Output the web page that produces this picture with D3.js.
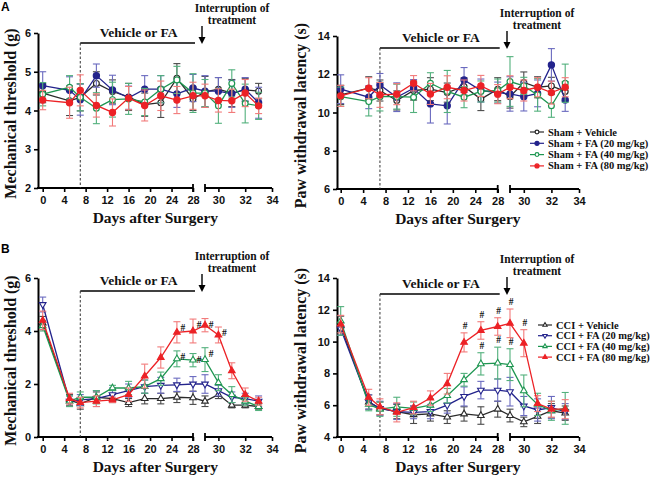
<!DOCTYPE html>
<html lang="en">
<head>
<meta charset="utf-8">
<title>Mechanical threshold and paw withdrawal latency</title>
<script src="https://d3js.org/d3.v7.min.js"></script>
<style>
  body { margin: 0; background: #fff; }
  .tick text { font-family: "Liberation Sans", Arial, sans-serif; font-weight: bold; font-size: 11px; fill: #111; }
  .serif { font-family: "Liberation Serif", "Times New Roman", serif; font-weight: bold; fill: #111; }
</style>
</head>
<body>
<svg width="650" height="478"></svg>
<script>
// ---- data ----
const days = [0, 5, 7, 10, 13, 16, 19, 22, 25, 28, 29, 30, 31, 32, 33];
const xTicks1 = [0, 4, 8, 12, 16, 20, 24, 28];
const xTicks2 = [30, 32, 34];

// A: sham, mechanical threshold (g)
const shamMechVeh  = [4.45, 4.25, 4.34, 4.70, 4.49, 4.35, 4.15, 4.20, 4.83, 4.30, 4.48, 4.55, 4.45, 4.53, 4.50];
const shamMech20   = [4.64, 4.52, 4.28, 4.90, 4.53, 4.33, 4.55, 4.55, 4.43, 4.58, 4.50, 4.50, 4.43, 4.55, 4.20];
const shamMech40   = [4.42, 4.60, 4.34, 4.06, 4.28, 4.30, 4.22, 4.55, 4.79, 4.45, 4.45, 4.12, 4.70, 4.18, 4.12];
const shamMech80   = [4.27, 4.20, 4.52, 4.13, 3.95, 4.32, 4.13, 4.38, 4.27, 4.38, 4.38, 4.26, 4.25, 4.45, 4.12];
const shamMechVehE = [0.25, 0.38, 0.35, 0.30, 0.30, 0.35, 0.30, 0.38, 0.38, 0.30, 0.40, 0.30, 0.35, 0.30, 0.20];
const shamMech20E  = [0.36, 0.35, 0.40, 0.30, 0.38, 0.30, 0.35, 0.35, 0.35, 0.35, 0.40, 0.35, 0.35, 0.30, 0.40];
const shamMech40E  = [0.30, 0.30, 0.35, 0.40, 0.45, 0.40, 0.35, 0.35, 0.35, 0.50, 0.35, 0.45, 0.35, 0.50, 0.35];
const shamMech80E  = [0.25, 0.40, 0.40, 0.30, 0.35, 0.30, 0.40, 0.38, 0.35, 0.35, 0.30, 0.30, 0.30, 0.35, 0.20];

// A: sham, paw withdrawal latency (s)
const shamPawVeh  = [10.92, 11.27, 11.15, 10.63, 11.15, 11.22, 11.04, 11.36, 10.70, 11.22, 10.83, 11.57, 11.32, 11.39, 11.10];
const shamPaw20   = [11.22, 10.80, 11.44, 10.80, 11.27, 10.45, 10.35, 11.70, 11.15, 11.04, 10.97, 10.83, 11.00, 12.49, 10.66];
const shamPaw40   = [10.83, 10.57, 10.83, 10.83, 10.80, 11.53, 11.10, 10.80, 11.10, 11.15, 11.62, 11.39, 10.92, 10.35, 11.53];
const shamPaw80   = [10.87, 11.27, 10.92, 10.96, 11.53, 10.97, 11.32, 11.15, 11.39, 10.96, 11.32, 11.15, 11.32, 11.04, 11.32];
const shamPawVehE = [0.50, 0.60, 0.55, 0.50, 0.50, 0.60, 0.50, 0.45, 0.60, 0.60, 0.60, 0.55, 0.55, 0.45, 0.50];
const shamPaw20E  = [0.75, 0.60, 0.60, 0.75, 0.45, 1.00, 0.95, 0.65, 0.60, 0.55, 0.90, 0.75, 0.70, 0.85, 0.60];
const shamPaw40E  = [0.50, 0.75, 0.75, 0.65, 0.80, 0.55, 1.10, 0.55, 0.55, 0.60, 1.30, 0.45, 0.85, 0.60, 1.00];
const shamPaw80E  = [0.55, 0.55, 0.65, 0.55, 0.40, 0.55, 0.60, 0.55, 0.55, 0.50, 0.60, 0.55, 0.50, 0.60, 0.50];

// B: CCI, mechanical threshold (g)
const cciMechVeh  = [4.30, 1.40, 1.25, 1.50, 1.45, 1.30, 1.45, 1.45, 1.50, 1.48, 1.35, 1.60, 1.20, 1.20, 1.15];
const cciMech20   = [5.00, 1.35, 1.40, 1.45, 1.60, 1.75, 1.90, 1.95, 1.97, 2.00, 2.00, 1.75, 1.50, 1.45, 1.35];
const cciMech40   = [4.20, 1.35, 1.50, 1.50, 1.85, 1.85, 1.90, 2.20, 2.95, 2.90, 2.92, 2.05, 1.60, 1.35, 1.15];
const cciMech80   = [4.40, 1.45, 1.30, 1.35, 1.40, 1.60, 2.30, 3.00, 3.95, 4.00, 4.22, 3.85, 2.50, 1.60, 1.35];
const cciMechVehE = [0.25, 0.20, 0.20, 0.20, 0.15, 0.15, 0.20, 0.20, 0.20, 0.25, 0.20, 0.15, 0.10, 0.10, 0.10];
const cciMech20E  = [0.28, 0.20, 0.20, 0.30, 0.25, 0.25, 0.25, 0.30, 0.25, 0.28, 0.35, 0.20, 0.20, 0.20, 0.20];
const cciMech40E  = [0.20, 0.20, 0.20, 0.25, 0.10, 0.25, 0.25, 0.25, 0.30, 0.25, 0.45, 0.30, 0.30, 0.15, 0.15];
const cciMech80E  = [0.35, 0.20, 0.20, 0.20, 0.10, 0.25, 0.45, 0.40, 0.40, 0.45, 0.25, 0.30, 0.30, 0.25, 0.15];

// B: CCI, paw withdrawal latency (s)
const cciPawVeh  = [11.00, 6.20, 5.80, 5.60, 5.40, 5.45, 5.25, 5.45, 5.35, 5.75, 5.35, 4.95, 5.30, 5.65, 5.50];
const cciPaw20   = [10.80, 6.20, 5.80, 5.60, 5.55, 5.60, 6.00, 6.55, 6.95, 6.95, 6.85, 5.95, 5.70, 5.85, 5.60];
const cciPaw40   = [11.30, 6.05, 5.75, 5.90, 5.80, 6.00, 6.60, 7.60, 8.60, 8.65, 8.55, 6.90, 6.05, 5.65, 5.80];
const cciPaw80   = [11.10, 6.50, 5.90, 5.55, 5.85, 6.45, 7.35, 9.95, 10.70, 10.95, 11.15, 9.90, 6.10, 5.75, 5.75];
const cciPawVehE = [0.60, 0.45, 0.40, 0.45, 0.55, 0.45, 0.40, 0.45, 0.55, 0.50, 0.40, 0.30, 0.45, 0.45, 0.45];
const cciPaw20E  = [0.40, 0.45, 0.45, 0.50, 0.40, 0.45, 0.50, 0.60, 0.55, 0.70, 0.90, 0.60, 0.70, 0.70, 0.50];
const cciPaw40E  = [0.90, 0.40, 0.45, 0.60, 0.40, 0.40, 0.45, 0.40, 0.70, 1.00, 1.00, 1.00, 0.70, 0.60, 1.00];
const cciPaw80E  = [0.55, 0.50, 0.50, 0.60, 0.40, 0.45, 0.65, 0.60, 0.55, 0.55, 0.90, 0.85, 0.50, 0.50, 0.60];

// days marked with "#"
const cciMech80Hash = [25, 28, 29, 30];
const cciMech40Hash = [25, 28, 29];
const cciPaw80Hash  = [22, 25, 28, 29, 30];
const cciPaw40Hash  = [25, 28, 29];

const shamNames = ["Sham + Vehicle", "Sham + FA (20 mg/kg)", "Sham + FA (40 mg/kg)", "Sham + FA (80 mg/kg)"];
const cciNames  = ["CCI + Vehicle", "CCI + FA (20 mg/kg)", "CCI + FA (40 mg/kg)", "CCI + FA (80 mg/kg)"];

// ---- styles ----
const colors  = ["#2b2b2b", "#23238c", "#1e9651", "#ec2226"];
const ecolors = ["#4a4a4a", "#6a6abf", "#52b07c", "#f27a7a"];

const svg = d3.select("svg");

function marker(g, shape, filled, color, x, y, sz) {
  sz = sz || 1;
  if (shape === "circle") {
    g.append("circle").attr("cx", x).attr("cy", y).attr("r", (filled ? 3.1 : 2.9) * sz)
      .attr("fill", filled ? color : "#fff").attr("stroke", color).attr("stroke-width", 1.2);
  } else {
    g.append("path")
      .attr("d", d3.symbol(d3.symbolTriangle, 19 * sz * sz)())
      .attr("transform", `translate(${x},${y})` + (shape === "down" ? " rotate(180)" : ""))
      .attr("fill", filled ? color : "#fff").attr("stroke", color).attr("stroke-width", 1.1);
  }
}

function drawPanel(p) {
  const g = svg.append("g");
  const x1 = d3.scaleLinear().domain([0, 28]).range([p.x0, p.x28]);
  const x2 = d3.scaleLinear().domain([29, 34]).range([p.x29, p.x34]);
  const xs = d => d <= 28 ? x1(d) : x2(d);
  const y = d3.scaleLinear().domain(p.yDomain).range([p.yBot, p.yTop]);
  const fmt = d3.format("d");

  // y axis
  const ya = g.append("g").attr("transform", `translate(${p.yAxisX},0)`)
    .call(d3.axisLeft(y).tickValues(p.yTicks).tickFormat(fmt).tickSize(4).tickPadding(3).tickSizeOuter(0));
  ya.select(".domain").attr("stroke-width", 2);
  ya.selectAll(".tick line").attr("stroke-width", 1.6);

  // x axis, two segments
  const xa1 = g.append("g").attr("transform", `translate(0,${p.yBot})`)
    .call(d3.axisBottom(x1).tickValues(xTicks1).tickFormat(fmt).tickSize(4).tickPadding(4));
  const xa2 = g.append("g").attr("transform", `translate(0,${p.yBot})`)
    .call(d3.axisBottom(x2).tickValues(xTicks2).tickFormat(fmt).tickSize(4).tickPadding(4));
  [xa1, xa2].forEach(a => {
    a.select(".domain").remove();
    a.selectAll(".tick line").attr("stroke-width", 1.6);
  });
  g.append("line").attr("x1", p.yAxisX - 1).attr("x2", x1(28)).attr("y1", p.yBot).attr("y2", p.yBot)
    .attr("stroke", "#000").attr("stroke-width", 2);
  g.append("line").attr("x1", x2(29)).attr("x2", x2(34)).attr("y1", p.yBot).attr("y2", p.yBot)
    .attr("stroke", "#000").attr("stroke-width", 2);
  [x1(28), x2(29)].forEach(bx => {
    g.append("line").attr("x1", bx).attr("x2", bx).attr("y1", p.yBot - 4).attr("y2", p.yBot + 4)
      .attr("stroke", "#000").attr("stroke-width", 1.8);
  });

  // axis titles
  g.append("text").attr("class", "serif").attr("font-size", 15.5)
    .attr("text-anchor", "middle").attr("x", (x1(0) + x2(34)) / 2 - 2).attr("y", p.yBot + 35)
    .text("Days after Surgery");
  g.append("text").attr("class", "serif").attr("font-size", 16)
    .attr("text-anchor", "middle")
    .attr("transform", `translate(${p.yTitleX},${(p.yTop + p.yBot) / 2 + 3}) rotate(-90)`)
    .text(p.yTitle);

  // treatment annotation
  g.append("line").attr("x1", x1(7)).attr("x2", x1(28) + 2).attr("y1", p.barY).attr("y2", p.barY)
    .attr("stroke", "#000").attr("stroke-width", 1.6);
  g.append("line").attr("x1", x1(7)).attr("x2", x1(7)).attr("y1", p.barY).attr("y2", p.yBot)
    .attr("stroke", "#333").attr("stroke-width", 1).attr("stroke-dasharray", "2.5,2");
  g.append("text").attr("class", "serif").attr("font-size", 13.5).attr("text-anchor", "middle")
    .attr("x", (x1(7) + x1(28)) / 2 + 2).attr("y", p.barY - 6).text("Vehicle or FA");
  const ax = x2(29) - 3;
  g.append("line").attr("x1", ax).attr("x2", ax).attr("y1", p.barY - 17).attr("y2", p.barY - 2)
    .attr("stroke", "#000").attr("stroke-width", 1.4);
  g.append("path").attr("d", `M${ax - 3.5},${p.barY - 6} L${ax + 3.5},${p.barY - 6} L${ax},${p.barY + 1} Z`)
    .attr("fill", "#000");
  g.append("text").attr("class", "serif").attr("font-size", 11.5).attr("text-anchor", "middle")
    .attr("x", ax + 30).attr("y", p.barY - 31).text("Interruption of");
  g.append("text").attr("class", "serif").attr("font-size", 11.5).attr("text-anchor", "middle")
    .attr("x", ax + 30).attr("y", p.barY - 19).text("treatment");

  // series
  p.series.forEach((s, k) => {
    const sg = g.append("g");
    const pts = days.map((d, i) => ({ d, m: s.mean[i], e: s.err[i] }));
    // error bars
    pts.forEach(pt => {
      const cx = xs(pt.d);
      sg.append("line").attr("x1", cx).attr("x2", cx).attr("y1", y(pt.m - pt.e)).attr("y2", y(pt.m + pt.e))
        .attr("stroke", ecolors[k]).attr("stroke-width", 1.1);
      [pt.m - pt.e, pt.m + pt.e].forEach(v => {
        sg.append("line").attr("x1", cx - 3.5).attr("x2", cx + 3.5).attr("y1", y(v)).attr("y2", y(v))
          .attr("stroke", ecolors[k]).attr("stroke-width", 1.1);
      });
    });
    sg.append("path").datum(pts)
      .attr("d", d3.line().x(pt => xs(pt.d)).y(pt => y(pt.m)))
      .attr("fill", "none").attr("stroke", colors[k]).attr("stroke-width", 1.3);
    pts.forEach(pt => marker(sg, s.shape, s.filled, colors[k], xs(pt.d), y(pt.m)));
    if (s.hash) {
      s.hash.forEach(d => {
        const i = days.indexOf(d);
        g.append("text").attr("class", "serif").attr("font-size", 9.5).attr("fill", "#333")
          .attr("text-anchor", "middle")
          .attr("x", xs(d) + p.hashDx).attr("y", y(s.mean[i] + s.err[i]) + p.hashDy).text("#");
      });
    }
  });

  // legend
  if (p.legend) {
    p.series.forEach((s, k) => {
      const ly = p.legend.y + k * p.legend.dy;
      const lg = g.append("g");
      lg.append("line").attr("x1", p.legend.x).attr("x2", p.legend.x + 14).attr("y1", ly).attr("y2", ly)
        .attr("stroke", colors[k]).attr("stroke-width", 1.2);
      marker(lg, s.shape, s.filled, colors[k], p.legend.x + 7, ly, 0.65);
      lg.append("text").attr("class", "serif").attr("font-size", 10.5)
        .attr("x", p.legend.x + 18).attr("y", ly + 3.5).text(p.names[k]);
    });
  }
}

// panel letters
svg.append("text").attr("x", 1).attr("y", 11).attr("font-family", "Liberation Sans, Arial, sans-serif")
  .attr("font-weight", "bold").attr("font-size", 12).text("A");
svg.append("text").attr("x", 1).attr("y", 253).attr("font-family", "Liberation Sans, Arial, sans-serif")
  .attr("font-weight", "bold").attr("font-size", 12).text("B");

const leftX  = { yAxisX: 38, x0: 42.7, x28: 193, x29: 205, x34: 272, yTitleX: 16 };
const rightX = { yAxisX: 337, x0: 340.7, x28: 497.7, x29: 510, x34: 579, yTitleX: 306 };

drawPanel(Object.assign({}, leftX, {
  yDomain: [2, 6], yTicks: [2, 3, 4, 5, 6], yTop: 33, yBot: 188, barY: 43,
  yTitle: "Mechanical threshold (g)",
  series: [
    { mean: shamMechVeh, err: shamMechVehE, shape: "circle", filled: false },
    { mean: shamMech20,  err: shamMech20E,  shape: "circle", filled: true },
    { mean: shamMech40,  err: shamMech40E,  shape: "circle", filled: false },
    { mean: shamMech80,  err: shamMech80E,  shape: "circle", filled: true }
  ]
}));

drawPanel(Object.assign({}, rightX, {
  yDomain: [6, 14], yTicks: [6, 8, 10, 12, 14], yTop: 36, yBot: 189, barY: 48,
  yTitle: "Paw withdrawal latency (s)",
  names: shamNames, legend: { x: 530, y: 132, dy: 11.3 },
  series: [
    { mean: shamPawVeh, err: shamPawVehE, shape: "circle", filled: false },
    { mean: shamPaw20,  err: shamPaw20E,  shape: "circle", filled: true },
    { mean: shamPaw40,  err: shamPaw40E,  shape: "circle", filled: false },
    { mean: shamPaw80,  err: shamPaw80E,  shape: "circle", filled: true }
  ]
}));

drawPanel(Object.assign({}, leftX, {
  yDomain: [0, 6], yTicks: [0, 2, 4, 6], yTop: 278, yBot: 437, barY: 291,
  yTitle: "Mechanical threshold (g)", hashDx: 6, hashDy: 9,
  series: [
    { mean: cciMechVeh, err: cciMechVehE, shape: "up", filled: false },
    { mean: cciMech20,  err: cciMech20E,  shape: "down", filled: false },
    { mean: cciMech40,  err: cciMech40E,  shape: "up", filled: false, hash: cciMech40Hash },
    { mean: cciMech80,  err: cciMech80E,  shape: "up", filled: true, hash: cciMech80Hash }
  ]
}));

drawPanel(Object.assign({}, rightX, {
  yDomain: [4, 14], yTicks: [4, 6, 8, 10, 12, 14], yTop: 278, yBot: 437, barY: 294,
  yTitle: "Paw withdrawal latency (s)", hashDx: 1, hashDy: -4,
  names: cciNames, legend: { x: 538, y: 325, dy: 10.7 },
  series: [
    { mean: cciPawVeh, err: cciPawVehE, shape: "up", filled: false },
    { mean: cciPaw20,  err: cciPaw20E,  shape: "down", filled: false },
    { mean: cciPaw40,  err: cciPaw40E,  shape: "up", filled: false, hash: cciPaw40Hash },
    { mean: cciPaw80,  err: cciPaw80E,  shape: "up", filled: true, hash: cciPaw80Hash }
  ]
}));
</script>
</body>
</html>
